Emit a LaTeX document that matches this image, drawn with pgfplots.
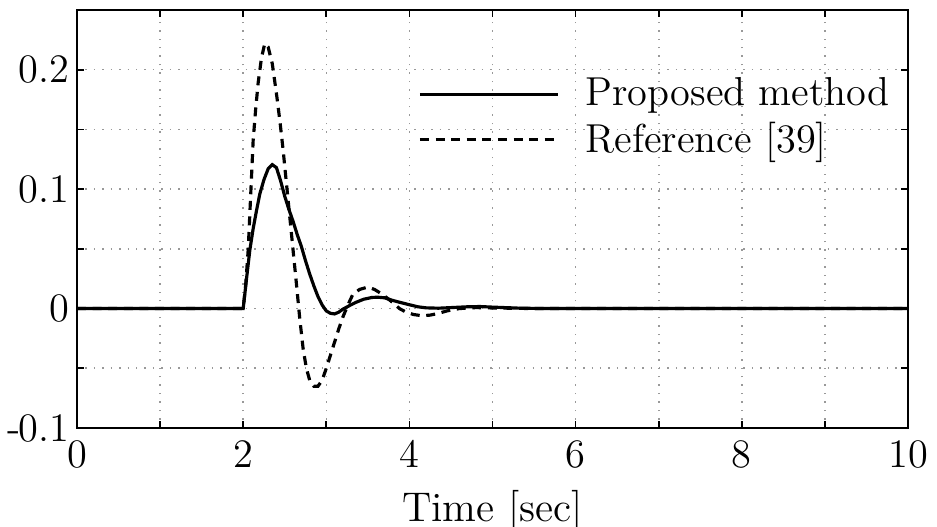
\documentclass[border=0pt]{standalone}
\usepackage{pgfplots}
\pgfplotsset{compat=1.18}
\begin{document}
\begin{tikzpicture}
\begin{axis}[
  scale only axis,
  width=8.31cm, height=4.18cm,
  xmin=0, xmax=10, ymin=-0.1, ymax=0.25,
  xtick={0,1,2,3,4,5,6,7,8,9,10},
  xticklabels={0,,2,,4,,6,,8,,10},
  ytick={-0.1,-0.05,0,0.05,0.1,0.15,0.2,0.25},
  yticklabels={-\kern-0.4pt0.1,,0,,0.1,,0.2,},
  tick align=inside,
  major tick length=0.07cm,
  tick style={black, line width=0.5pt},
  axis line style={black, line width=0.6pt},
  grid=major,
  major grid style={dotted, gray!80, line width=0.45pt},
  ticklabel style={font=\fontsize{11.5}{14}\selectfont},
  yticklabel style={xshift=1.4pt},
  xlabel={Time [sec]},
  xlabel style={font=\fontsize{11.8}{14}\selectfont, yshift=0.5pt},
  legend style={draw=none, fill=none, at={(rel axis cs:1.0,0.873)}, anchor=north east,
    font=\fontsize{11.5}{14}\selectfont, row sep=-1pt},
  legend cell align=left,
  legend image code/.code={\draw[#1] (0cm,0cm) -- (1.38cm,0cm); \path (1.57cm,0cm);},
]
\addplot[black, line width=0.9pt] coordinates {
(0,0) (2.0,0) (2.04,0.025) (2.08,0.049) (2.12,0.067) (2.16,0.082) (2.20,0.096)
(2.25,0.108) (2.30,0.117) (2.35,0.1205) (2.40,0.118) (2.45,0.107) (2.50,0.094)
(2.55,0.083) (2.60,0.073) (2.65,0.062) (2.70,0.052) (2.75,0.040) (2.80,0.029)
(2.85,0.019) (2.90,0.010) (2.95,0.003) (3.00,-0.002) (3.05,-0.004) (3.10,-0.0045)
(3.15,-0.003) (3.20,-0.0005) (3.28,0.0025) (3.35,0.005) (3.45,0.0078) (3.55,0.0093)
(3.62,0.0095) (3.70,0.009) (3.80,0.0068) (3.88,0.0053) (4.0,0.0032) (4.1,0.0015)
(4.2,0.0006) (4.35,0.0003) (4.5,0.0008) (4.7,0.0015) (4.85,0.0017) (5.0,0.0012)
(5.3,0.0004) (5.6,0) (10,0)
};
\addlegendentry{Proposed method}
\addplot[black, line width=0.9pt, dash pattern=on 0.09cm off 0.066cm] coordinates {
(0,0) (2.0,0) (2.03,0.02) (2.06,0.049) (2.09,0.095) (2.12,0.141) (2.15,0.167)
(2.18,0.189) (2.22,0.210) (2.26,0.222) (2.30,0.219) (2.35,0.205) (2.40,0.18)
(2.44,0.158) (2.48,0.133) (2.52,0.105) (2.56,0.077) (2.60,0.049) (2.64,0.021)
(2.68,-0.008) (2.72,-0.033) (2.76,-0.050) (2.80,-0.060) (2.85,-0.065) (2.90,-0.065)
(2.95,-0.060) (3.00,-0.050) (3.05,-0.039) (3.10,-0.028) (3.15,-0.017) (3.20,-0.007)
(3.26,0.003) (3.32,0.012) (3.40,0.016) (3.50,0.018) (3.58,0.016) (3.65,0.013)
(3.72,0.0095) (3.80,0.005) (3.88,0.000) (3.96,-0.003) (4.05,-0.005) (4.15,-0.006)
(4.25,-0.0055) (4.35,-0.004) (4.45,-0.002) (4.6,0.0) (4.8,0.0008) (5.0,0.0005)
(5.5,0) (10,0)
};
\addlegendentry{Reference [39]}
\end{axis}
\path (current axis.south west) ++(-0.77cm,-0.99cm) coordinate (bbA);
\path (current axis.north east) ++(0.29cm,0.10cm) coordinate (bbB);
\pgfresetboundingbox
\path (bbA) rectangle (bbB);
\end{tikzpicture}
\end{document}
